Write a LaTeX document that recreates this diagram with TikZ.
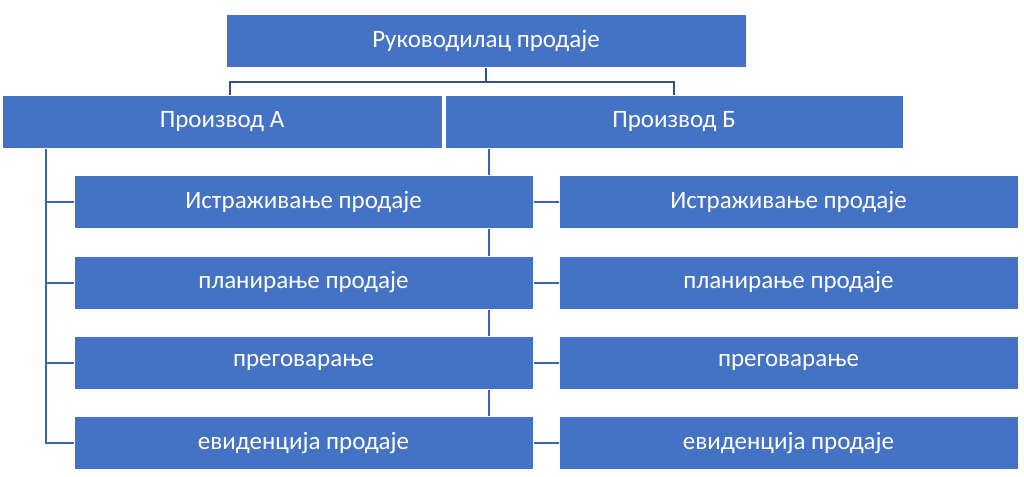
\documentclass[tikz,border=0pt]{standalone}
\usepackage{fontspec}
\setmainfont{Carlito}
\usetikzlibrary{backgrounds}
\definecolor{boxblue}{HTML}{4472C4}
\definecolor{linkblue}{HTML}{3B64AD}
\definecolor{topblue}{HTML}{2F528F}
\begin{document}
\begin{tikzpicture}[x=1pt,y=-1pt,
		unit/.style={fill=boxblue, draw=white, line width=0.8pt, text=white,
			minimum height=53pt, inner sep=0pt, font=\fontsize{25}{28}\selectfont},
		conn/.style={draw=linkblue, line width=2pt},
		topconn/.style={draw=topblue, line width=2pt}]
		\useasboundingbox (0,0) rectangle (1024,476);

		\node [unit, minimum width=520pt] (Manager) at (486,41) {Руководилац продаје};

		\node [unit, minimum width=440pt] (ProductA) at (222,121.5) {Производ А};
		\node [unit, minimum width=458pt] (ProductB) at (674,121.5) {Производ Б};

		\node [unit, minimum width=459pt] (ResearchA) at (303.5,202) {Истраживање продаје};
		\node [unit, minimum width=459pt] (PlanA) at (303.5,282.5) {планирање продаје};
		\node [unit, minimum width=459pt] (TalkA) at (303.5,362.5) {преговарање};
		\node [unit, minimum width=459pt] (RecordA) at (303.5,443) {евиденција продаје};

		\node [unit, minimum width=459pt] (ResearchB) at (788.5,202) {Истраживање продаје};
		\node [unit, minimum width=459pt] (PlanB) at (788.5,282.5) {планирање продаје};
		\node [unit, minimum width=459pt] (TalkB) at (788.5,362.5) {преговарање};
		\node [unit, minimum width=459pt] (RecordB) at (788.5,443) {евиденција продаје};

		\begin{scope}[on background layer]
			\coordinate (TopJoin) at ([yshift=-14pt]Manager.south);
			\coordinate (TrunkA) at ([xshift=44pt]ProductA.south west);
			\coordinate (TrunkB) at ([xshift=44pt]ProductB.south west);

			\draw [topconn] (Manager.south) -- (TopJoin);
			\draw [topconn] (TopJoin) -| ([xshift=8pt]ProductA.north);
			\draw [topconn] (TopJoin) -| (ProductB.north);

			\draw [conn] (TrunkA) |- (RecordA.west);
			\draw [conn] (TrunkB) |- (RecordB.west);
			\foreach \task in {Research,Plan,Talk} {
				\draw [conn] (TrunkA |- \task A.west) -- (\task A.west);
				\draw [conn] (TrunkB |- \task B.west) -- (\task B.west);
			}
		\end{scope}
	\end{tikzpicture}
\end{document}
